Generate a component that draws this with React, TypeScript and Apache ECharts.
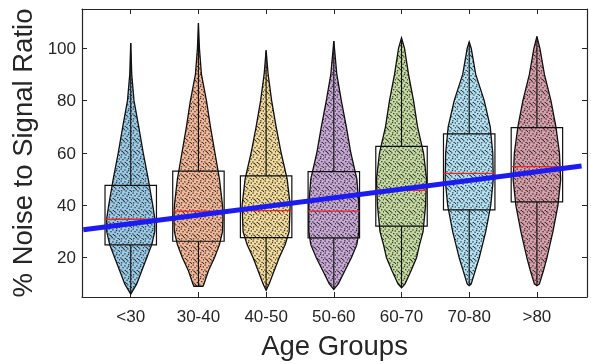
import React, { useEffect, useRef } from "react";
import * as echarts from "echarts";

const CATEGORIES = ["<30", "30-40", "40-50", "50-60", "60-70", "70-80", ">80"];
const GROUP_X = [1, 2, 3, 4, 5, 6, 7];
const Y_TICKS = [20, 40, 60, 80, 100];

const MINS = [6.1, 9.1, 7.6, 7.9, 8.5, 9.3, 9.3];
const Q1 = [24.9, 26.3, 27.7, 27.6, 32.1, 38.3, 41.3];
const MEDIANS = [34.7, 37.8, 38.0, 37.8, 45.8, 52.2, 54.8];
const Q3 = [47.6, 53.1, 51.3, 52.9, 62.5, 67.3, 69.7];
const MAXS = [102, 109.6, 99.2, 102.8, 104, 102.4, 104.5];

// kernel density profiles: [value, relative density]
const DENSITY_LT30 = [[6.1, 0], [10, 0.24], [15, 0.44], [20, 0.64], [25, 0.84], [30, 0.96], [35, 0.96], [40, 0.88], [50, 0.7], [60, 0.5], [70, 0.32], [80, 0.13], [90, 0.04], [102, 0]];
const DENSITY_30_40 = [[9.1, 0.18], [10, 0.22], [15, 0.4], [20, 0.64], [25, 0.84], [30, 0.96], [35, 0.98], [40, 0.96], [50, 0.84], [60, 0.66], [70, 0.48], [80, 0.32], [90, 0.12], [100, 0.04], [109.6, 0]];
const DENSITY_40_50 = [[7.6, 0], [10, 0.12], [15, 0.32], [20, 0.52], [25, 0.76], [30, 0.92], [40, 0.96], [50, 0.84], [60, 0.6], [70, 0.4], [80, 0.22], [90, 0.08], [99.2, 0]];
const DENSITY_50_60 = [[7.9, 0], [10, 0.18], [15, 0.44], [20, 0.7], [25, 0.92], [30, 1], [40, 1], [50, 0.92], [60, 0.68], [70, 0.5], [80, 0.3], [90, 0.12], [102.8, 0]];
const DENSITY_60_70 = [[8.5, 0], [10, 0.14], [15, 0.38], [20, 0.6], [25, 0.72], [30, 0.86], [40, 0.96], [50, 1], [60, 0.88], [70, 0.64], [80, 0.48], [90, 0.28], [100, 0.12], [104, 0]];
const DENSITY_70_80 = [[9.3, 0], [10, 0.08], [15, 0.24], [20, 0.4], [30, 0.66], [40, 0.86], [50, 0.96], [60, 0.94], [70, 0.84], [80, 0.6], [90, 0.26], [100, 0.08], [102.4, 0]];
const DENSITY_GT80 = [[9.3, 0], [10, 0.1], [15, 0.26], [20, 0.4], [30, 0.64], [40, 0.84], [50, 0.95], [60, 0.9], [70, 0.76], [80, 0.56], [90, 0.3], [100, 0.12], [104.5, 0]];
const DENSITIES = [DENSITY_LT30, DENSITY_30_40, DENSITY_40_50, DENSITY_50_60, DENSITY_60_70, DENSITY_70_80, DENSITY_GT80];

// linear fit endpoints
const FIT_X = [0.3, 7.66];
const FIT_Y = [30.7, 55.0];

const COLORS = ["#9ccbe8", "#f4b99a", "#f3dc9d", "#c9a9d6", "#c7dca3", "#b4e2f5", "#d8a0ab"];
const VIOLIN_HALF = 0.37;
const BOX_HALF = 0.38;
const FONT = "'Liberation Sans', Arial, sans-serif";
const AXIS_COLOR = "#262626";

function makeSpeckleTile(): HTMLCanvasElement {
  const size = 12;
  const c = document.createElement("canvas");
  c.width = size;
  c.height = size;
  const ctx = c.getContext("2d")!;
  const specks = [
    [0.5, 0.5], [4.2, 1.3], [8.1, 0.2], [10.6, 2.4], [2.3, 3.1], [6.4, 3.6],
    [0.2, 5.4], [4.6, 5.9], [9.0, 5.1], [10.9, 7.2], [2.7, 7.8], [7.1, 8.3],
    [0.9, 10.2], [5.3, 10.4], [9.5, 9.9], [3.6, 9.1], [7.8, 2.0], [1.5, 6.8],
    [6.0, 6.9], [11.0, 10.8],
  ];
  ctx.fillStyle = "rgba(15,15,15,0.8)";
  for (const [x, y] of specks) ctx.fillRect(x, y, 1.4, 1.2);
  return c;
}

export default function App() {
  const ref = useRef<HTMLDivElement>(null);
  useEffect(() => {
    if (!ref.current) return;
    const chart = echarts.init(ref.current, null, { renderer: "svg" });
    const tile = makeSpeckleTile();
    const pattern: any = { image: tile, repeat: "repeat", imageWidth: 12, imageHeight: 12 };

    const data = GROUP_X.map((x, i) => [x, MINS[i], Q1[i], MEDIANS[i], Q3[i], MAXS[i]]);

    const renderItem = (params: any, api: any) => {
      const i = params.dataIndex;
      const cx = api.value(0);
      const prof = DENSITIES[i];
      const right = prof.map(([v, d]) => api.coord([cx + d * VIOLIN_HALF, v]));
      const left = prof.slice().reverse().map(([v, d]) => api.coord([cx - d * VIOLIN_HALF, v]));
      const pts = right.concat(left);
      const c = (x: number, y: number) => api.coord([x, y]);
      const top = c(cx - BOX_HALF, Q3[i]);
      const bot = c(cx + BOX_HALF, Q1[i]);
      const mL = c(cx - BOX_HALF, MEDIANS[i]);
      const mR = c(cx + BOX_HALF, MEDIANS[i]);
      const pMax = c(cx, MAXS[i]);
      const pQ3 = c(cx, Q3[i]);
      const pQ1 = c(cx, Q1[i]);
      const pMin = c(cx, MINS[i]);
      return {
        type: "group",
        children: [
          { type: "polygon", shape: { points: pts }, style: { fill: COLORS[i], stroke: "none" } },
          { type: "polygon", shape: { points: pts }, style: { fill: pattern, stroke: "#111", lineWidth: 1.3 } },
          { type: "line", shape: { x1: pMax[0], y1: pMax[1], x2: pQ3[0], y2: pQ3[1] }, style: { stroke: "#111", lineWidth: 1.1 } },
          { type: "line", shape: { x1: pQ1[0], y1: pQ1[1], x2: pMin[0], y2: pMin[1] }, style: { stroke: "#111", lineWidth: 1.1 } },
          { type: "rect", shape: { x: top[0], y: top[1], width: bot[0] - top[0], height: bot[1] - top[1] }, style: { fill: "none", stroke: "#111", lineWidth: 1.2 } },
          { type: "line", shape: { x1: mL[0], y1: mL[1], x2: mR[0], y2: mR[1] }, style: { stroke: "#e8262a", lineWidth: 1.4 } },
        ],
      };
    };

    const xBase = {
      type: "value",
      min: 0.28,
      max: 7.74,
      splitLine: { show: false },
      axisLine: { show: true, onZero: false, lineStyle: { color: AXIS_COLOR, width: 1.2 } },
      axisTick: { show: true, inside: true, length: 5, customValues: GROUP_X, lineStyle: { color: AXIS_COLOR } },
    };
    const yBase = {
      type: "value",
      min: 5,
      max: 115,
      splitLine: { show: false },
      axisLine: { show: true, onZero: false, lineStyle: { color: AXIS_COLOR, width: 1.2 } },
      axisTick: { show: true, inside: true, length: 5, customValues: Y_TICKS, lineStyle: { color: AXIS_COLOR } },
    };

    chart.setOption({
      animation: false,
      grid: { left: 82, right: 4, top: 9, bottom: 66, containLabel: false },
      xAxis: [
        {
          ...xBase,
          position: "bottom",
          name: "Age Groups",
          nameLocation: "middle",
          nameGap: 34,
          nameTextStyle: { fontFamily: FONT, fontSize: 27.5, color: AXIS_COLOR },
          axisLabel: {
            show: true,
            customValues: GROUP_X,
            margin: 11,
            fontFamily: FONT,
            fontSize: 17,
            color: AXIS_COLOR,
            formatter: (v: number) => CATEGORIES[Math.round(v) - 1] ?? "",
          },
        },
        { ...xBase, position: "top", axisLabel: { show: false } },
      ],
      yAxis: [
        {
          ...yBase,
          position: "left",
          name: "% Noise to Signal Ratio",
          nameLocation: "middle",
          nameGap: 46,
          nameTextStyle: { fontFamily: FONT, fontSize: 27.5, color: AXIS_COLOR },
          axisLabel: { show: true, customValues: Y_TICKS, margin: 6, fontFamily: FONT, fontSize: 17, color: AXIS_COLOR },
        },
        { ...yBase, position: "right", axisLabel: { show: false } },
      ],
      series: [
        {
          type: "custom",
          renderItem,
          data,
          encode: { x: 0, y: [1, 5] },
          clip: true,
          z: 2,
        },
        {
          type: "line",
          data: FIT_X.map((x, i) => [x, FIT_Y[i]]),
          showSymbol: false,
          symbol: "none",
          lineStyle: { color: "#1c1cf2", width: 5 },
          z: 5,
        },
      ],
    });
    return () => chart.dispose();
  }, []);
  return <div ref={ref} style={{ position: "fixed", left: 0, top: 0, width: 591, height: 364 }} />;
}
